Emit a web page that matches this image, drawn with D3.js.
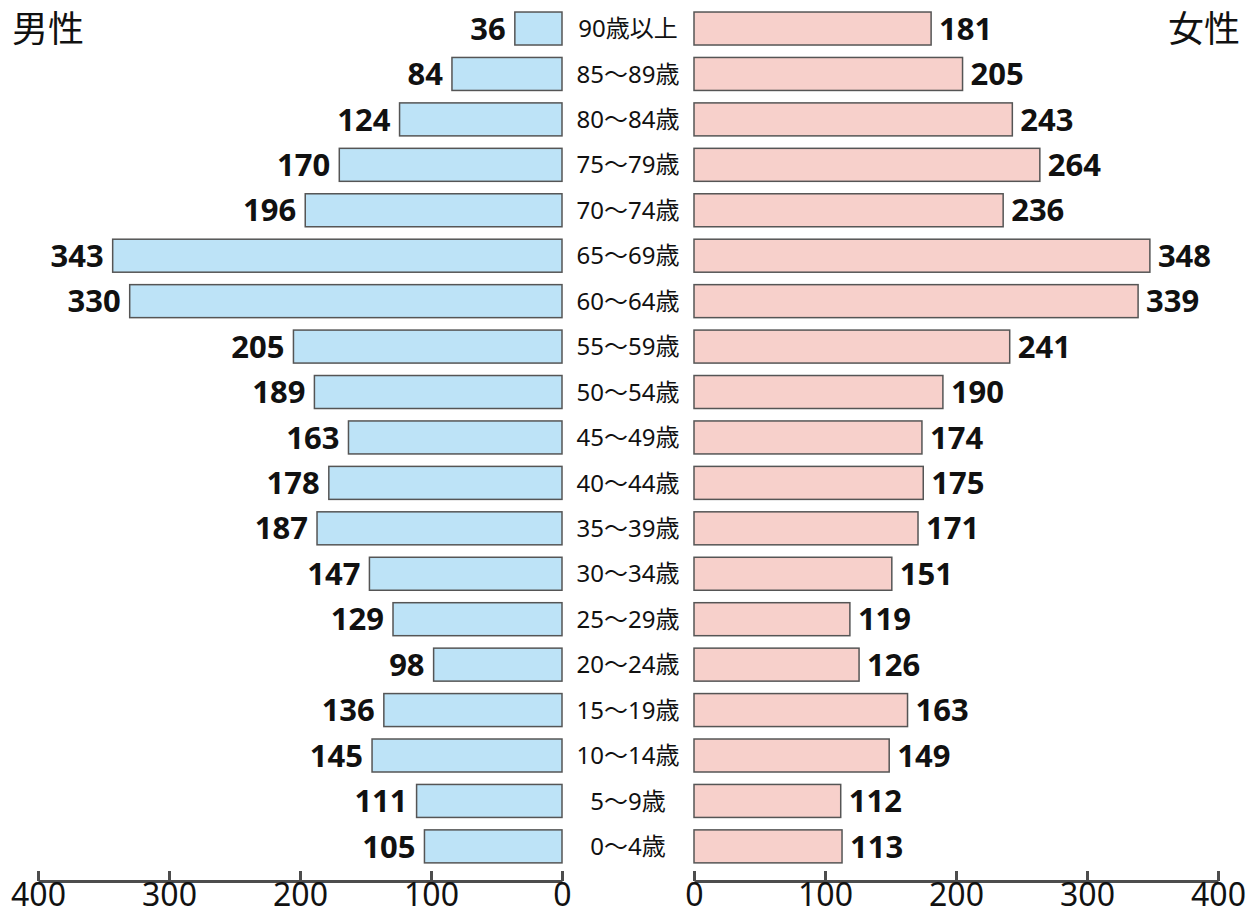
<!DOCTYPE html>
<html>
<head>
<meta charset="utf-8">
<script src="https://cdn.jsdelivr.net/npm/d3@7"></script>
<style>
  html, body { margin: 0; padding: 0; background: #fff; }
  svg { display: block; font-family: "Noto Sans", "Noto Sans CJK JP", sans-serif; }
</style>
</head>
<body>
<svg id="chart" width="1258" height="915"></svg>
<script>
// Age groups, oldest at the top
const ageGroups = ["90歳以上", "85〜89歳", "80〜84歳", "75〜79歳", "70〜74歳", "65〜69歳", "60〜64歳",
  "55〜59歳", "50〜54歳", "45〜49歳", "40〜44歳", "35〜39歳", "30〜34歳", "25〜29歳",
  "20〜24歳", "15〜19歳", "10〜14歳", "5〜9歳", "0〜4歳"];
const male   = [36, 84, 124, 170, 196, 343, 330, 205, 189, 163, 178, 187, 147, 129, 98, 136, 145, 111, 105];
const female = [181, 205, 243, 264, 236, 348, 339, 241, 190, 174, 175, 171, 151, 119, 126, 163, 149, 112, 113];
const axisTicks = [0, 100, 200, 300, 400];
const maleTitle = "男性";
const femaleTitle = "女性";

const FONT = "\"Noto Sans\", \"Noto Sans CJK JP\", sans-serif";
const svg = d3.select("#chart");

const xMale = d3.scaleLinear().domain([0, 400]).range([562, 38]);
const xFemale = d3.scaleLinear().domain([0, 400]).range([694, 1218]);
const y = d3.scaleBand().domain(ageGroups).range([5.8, 869.1]).paddingInner(0.274).paddingOuter(0.137);

const barStroke = "#555555";

// Male bars (grow leftward from zero)
svg.append("g").selectAll("rect").data(male).join("rect")
  .attr("x", d => xMale(d))
  .attr("y", (d, i) => y(ageGroups[i]))
  .attr("width", d => xMale(0) - xMale(d))
  .attr("height", y.bandwidth())
  .attr("fill", "#bde3f7")
  .attr("stroke", barStroke)
  .attr("stroke-width", 1.5);

// Female bars (grow rightward from zero)
svg.append("g").selectAll("rect").data(female).join("rect")
  .attr("x", xFemale(0))
  .attr("y", (d, i) => y(ageGroups[i]))
  .attr("width", d => xFemale(d) - xFemale(0))
  .attr("height", y.bandwidth())
  .attr("fill", "#f7d0cb")
  .attr("stroke", barStroke)
  .attr("stroke-width", 1.5);

// Value labels
svg.append("g").selectAll("text").data(male).join("text")
  .attr("x", d => xMale(d) - 9)
  .attr("y", (d, i) => y(ageGroups[i]) + y.bandwidth() / 2)
  .attr("dy", "0.36em")
  .attr("text-anchor", "end")
  .attr("font-size", 31)
  .attr("font-weight", "bold")
  .attr("fill", "#111")
  .text(d => d);

svg.append("g").selectAll("text").data(female).join("text")
  .attr("x", d => xFemale(d) + 8)
  .attr("y", (d, i) => y(ageGroups[i]) + y.bandwidth() / 2)
  .attr("dy", "0.36em")
  .attr("text-anchor", "start")
  .attr("font-size", 31)
  .attr("font-weight", "bold")
  .attr("fill", "#111")
  .text(d => d);

// Age group labels in the centre column
svg.append("g").selectAll("text").data(ageGroups).join("text")
  .attr("x", (xMale(0) + xFemale(0)) / 2)
  .attr("y", d => y(d) + y.bandwidth() / 2)
  .attr("dy", "0.36em")
  .attr("text-anchor", "middle")
  .attr("font-size", 24)
  .attr("fill", "#111")
  .text(d => d);

// Bottom axes with upward ticks
const axisY = 881;
function styleAxis(g) {
  g.select(".domain").attr("stroke", "#4d4d4d").attr("stroke-width", 3);
  g.selectAll(".tick line").attr("stroke", "#4d4d4d").attr("stroke-width", 3);
  g.selectAll(".tick text").attr("font-size", 32).attr("fill", "#111")
    .attr("font-family", FONT);
}
svg.append("g")
  .attr("transform", `translate(0,${axisY})`)
  .call(d3.axisBottom(xMale).tickValues(axisTicks).tickSizeInner(-10).tickSizeOuter(0).tickPadding(2))
  .call(styleAxis);
svg.append("g")
  .attr("transform", `translate(0,${axisY})`)
  .call(d3.axisBottom(xFemale).tickValues(axisTicks).tickSizeInner(-10).tickSizeOuter(0).tickPadding(2))
  .call(styleAxis);

// Panel titles
svg.append("text")
  .attr("x", 12).attr("y", 42)
  .attr("font-size", 36).attr("fill", "#111")
  .text(maleTitle);
svg.append("text")
  .attr("x", 1240).attr("y", 42)
  .attr("text-anchor", "end")
  .attr("font-size", 36).attr("fill", "#111")
  .text(femaleTitle);
</script>
</body>
</html>
